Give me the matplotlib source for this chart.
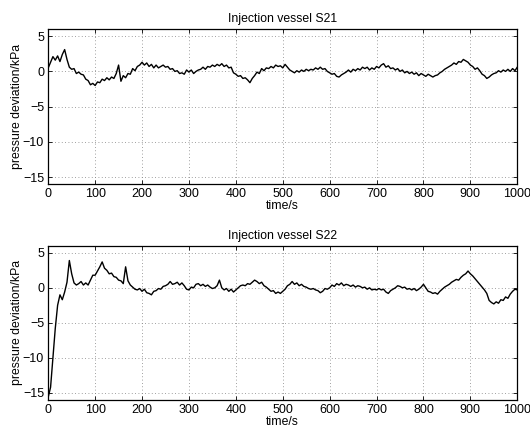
import numpy as np
import matplotlib
matplotlib.use('Agg')
import matplotlib.pyplot as plt

# ── Data (5 s sampling) ───────────────────────────────────────────────────────
time_s = np.arange(0, 1001, 5)

s21_kpa = [
    0.5, 1.3, 2.1, 1.6, 2.2, 1.4, 2.4, 3.1, 1.7, 0.6,
    0.3, 0.4, -0.3, -0.1, -0.4, -0.5, -1.1, -1.3, -1.9, -1.7,
    -2.0, -1.5, -1.6, -1.1, -1.3, -0.9, -1.2, -0.8, -1.0, -0.3,
    0.9, -1.4, -0.6, -0.9, -0.3, -0.4, 0.4, 0.1, 0.7, 0.9,
    1.3, 0.9, 1.2, 0.7, 1.0, 0.5, 0.9, 0.5, 0.7, 0.9,
    0.6, 0.7, 0.3, 0.4, 0.0, 0.1, -0.3, -0.2, -0.4, 0.2,
    -0.1, 0.2, -0.3, 0.0, 0.2, 0.3, 0.6, 0.3, 0.7, 0.6,
    0.9, 0.7, 1.0, 0.8, 1.1, 0.7, 0.9, 0.5, 0.6, -0.2,
    -0.4, -0.7, -0.6, -1.0, -0.9, -1.2, -1.6, -1.0, -0.6, -0.1,
    -0.3, 0.4, 0.1, 0.5, 0.4, 0.7, 0.5, 0.9, 0.7, 0.8,
    0.5, 1.0, 0.6, 0.2, 0.0, -0.2, 0.1, -0.1, 0.2, 0.0,
    0.3, 0.1, 0.3, 0.2, 0.5, 0.3, 0.6, 0.3, 0.4, 0.0,
    -0.2, -0.4, -0.3, -0.7, -0.8, -0.5, -0.3, -0.1, 0.2, -0.1,
    0.3, 0.1, 0.4, 0.2, 0.6, 0.4, 0.6, 0.2, 0.5, 0.3,
    0.7, 0.5, 0.9, 1.1, 0.6, 0.8, 0.4, 0.5, 0.2, 0.4,
    0.0, 0.2, -0.2, 0.0, -0.3, -0.1, -0.4, -0.2, -0.6, -0.3,
    -0.5, -0.7, -0.4, -0.6, -0.8, -0.6, -0.5, -0.2, 0.0, 0.3,
    0.5, 0.7, 0.9, 1.2, 1.0, 1.4, 1.3, 1.7, 1.5, 1.3,
    0.9, 0.7, 0.3, 0.5, 0.1, -0.4, -0.6, -1.0, -0.8, -0.5,
    -0.3, -0.2, 0.1, -0.1, 0.2, 0.0, 0.3, 0.0, 0.4, 0.1,
    0.6,
]

s22_kpa = [
    -15.6, -14.2, -10.0, -5.8, -2.5, -1.0, -1.7, -0.6, 0.8, 3.9,
    2.0, 0.7, 0.4, 0.6, 0.9, 0.4, 0.7, 0.4, 1.1, 1.8,
    1.8, 2.4, 3.0, 3.7, 2.8, 2.5, 2.0, 2.1, 1.6, 1.5,
    1.1, 1.0, 0.6, 3.0, 1.0, 0.4, 0.1, -0.2, -0.3, -0.1,
    -0.5, -0.2, -0.7, -0.8, -1.0, -0.5, -0.4, -0.1, -0.2, 0.2,
    0.3, 0.5, 0.9, 0.5, 0.6, 0.8, 0.4, 0.7, 0.3, -0.2,
    -0.3, 0.1, 0.0, 0.5, 0.6, 0.3, 0.5, 0.2, 0.4, 0.1,
    -0.1, 0.0, 0.3, 1.1, 0.0, -0.3, -0.1, -0.5, -0.2, -0.6,
    -0.3, 0.0, 0.3, 0.4, 0.3, 0.6, 0.5, 0.8, 1.1, 0.9,
    0.6, 0.8, 0.3, 0.1, -0.2, -0.5, -0.4, -0.8, -0.6, -0.8,
    -0.5, -0.2, 0.3, 0.5, 0.9, 0.5, 0.7, 0.3, 0.5, 0.2,
    0.1, -0.1, -0.2, -0.1, -0.3, -0.4, -0.7, -0.5, -0.1, -0.2,
    0.0, 0.4, 0.2, 0.6, 0.4, 0.7, 0.3, 0.5, 0.4, 0.2,
    0.4, 0.1, 0.3, 0.2, 0.0, 0.1, -0.2, 0.0, -0.3, -0.2,
    -0.3, -0.1, -0.3, -0.2, -0.6, -0.8, -0.4, -0.2, 0.0, 0.3,
    0.2, 0.0, 0.1, -0.2, -0.1, -0.3, -0.1, -0.4, -0.2, 0.1,
    0.5, 0.0, -0.5, -0.6, -0.8, -0.7, -0.9, -0.5, -0.2, 0.1,
    0.3, 0.5, 0.8, 1.0, 1.2, 1.1, 1.5, 1.8, 2.0, 2.4,
    2.0, 1.7, 1.3, 0.9, 0.5, 0.1, -0.3, -0.8, -1.8, -2.1,
    -2.3, -2.0, -2.2, -1.7, -1.8, -1.3, -1.5, -0.9, -0.5, -0.2,
    -0.3,
]

titles = ["Injection vessel S21", "Injection vessel S22"]
x_ticks = [0, 100, 200, 300, 400, 500, 600, 700, 800, 900, 1000]
y_ticks = [-15, -10, -5, 0, 5]

# ── Figure ────────────────────────────────────────────────────────────────────
plt.rcParams['font.family'] = ['Liberation Sans', 'DejaVu Sans']

fig = plt.figure(figsize=(5.30, 4.29), dpi=100)
ax_top = fig.add_axes([0.091, 0.571, 0.885, 0.361])
ax_bot = fig.add_axes([0.091, 0.068, 0.885, 0.359])

for ax, series, title in zip([ax_top, ax_bot], [s21_kpa, s22_kpa], titles):
    ax.plot(time_s, series, color='black', linewidth=1.0)
    ax.set_xlim(0, 1000)
    ax.set_ylim(-16, 6)
    ax.set_xticks(x_ticks)
    ax.set_yticks(y_ticks)
    ax.grid(True, color='0.5', linestyle=(0, (1, 3)), linewidth=0.6)
    ax.tick_params(direction='in', top=True, right=True, length=3,
                   width=0.6, labelsize=9, pad=3)
    for spine in ax.spines.values():
        spine.set_linewidth(0.9)
    ax.set_title(title, fontsize=8.8, pad=5)
    ax.set_xlabel('time/s', fontsize=8.8, labelpad=0)
    ax.set_ylabel('pressure deviation/kPa', fontsize=8.8, labelpad=0)

fig.savefig('out.png', dpi=100, facecolor='white')
